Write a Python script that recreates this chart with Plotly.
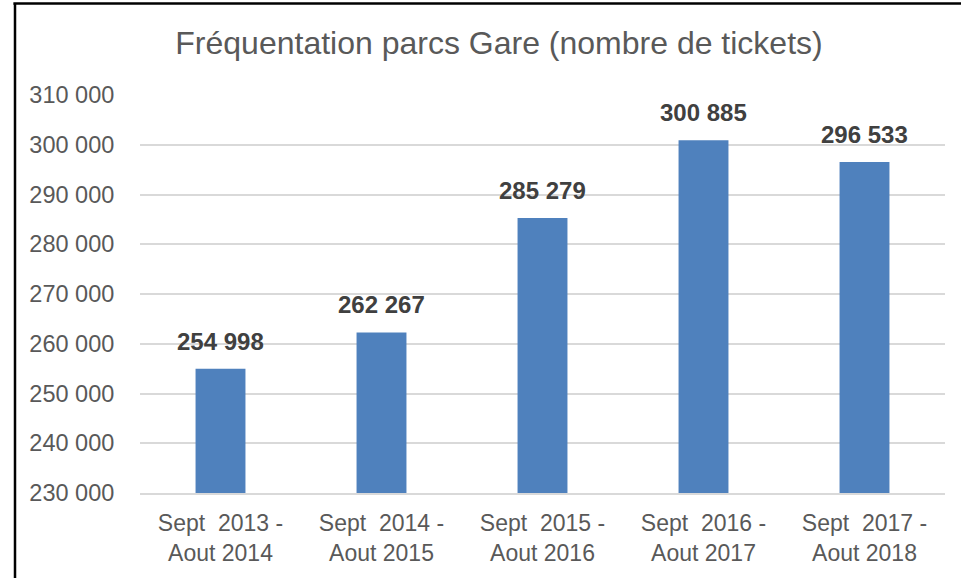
import plotly.graph_objects as go

categories = [
    "Sept\u00a0\u00a02013 -<br>Aout 2014",
    "Sept\u00a0\u00a02014 -<br>Aout 2015",
    "Sept\u00a0\u00a02015 -<br>Aout 2016",
    "Sept\u00a0\u00a02016 -<br>Aout 2017",
    "Sept\u00a0\u00a02017 -<br>Aout 2018",
]
values = [254998, 262267, 285279, 300885, 296533]
tick_vals = [230000, 240000, 250000, 260000, 270000, 280000, 290000, 300000, 310000]
tick_text = ["230 000", "240 000", "250 000", "260 000", "270 000", "280 000", "290 000", "300 000", "310 000"]
value_labels = ["254 998", "262 267", "285 279", "300 885", "296 533"]
title = "Fréquentation parcs Gare (nombre de tickets)"

FONT = "Liberation Sans, Arial, sans-serif"
GREY = "#595959"

fig = go.Figure(go.Bar(
    x=categories, y=values, marker_color="#4F81BD", marker_line_width=0,
    width=0.31, hoverinfo="skip",
))

for c, v, t in zip(categories, values, value_labels):
    fig.add_annotation(x=c, y=v, text="<b>" + t + "</b>", showarrow=False,
                       yanchor="bottom", yshift=12,
                       font=dict(family=FONT, size=24, color="#404040"))

L, R, T, B = 140, 16, 95, 85
W, H = 961, 578
pw, ph = W - L - R, H - T - B
# frame lines (left and top) in paper coords
x_left = (15 - L) / pw
y_top = 1 + (T - 3.5) / ph
y_bot = -(B + 5) / ph
x_right = 1 + (R + 5) / pw
fig.add_shape(type="line", xref="paper", yref="paper", x0=x_left, x1=x_left,
              y0=y_bot, y1=y_top, line=dict(color="black", width=2.5))
fig.add_shape(type="line", xref="paper", yref="paper", x0=x_left - 0.002, x1=x_right,
              y0=y_top, y1=y_top, line=dict(color="black", width=2.5))

fig.update_layout(
    width=W, height=H,
    margin=dict(l=L, r=R, t=T, b=B, autoexpand=False),
    paper_bgcolor="white", plot_bgcolor="white",
    showlegend=False,
    title=dict(text=title, x=499 / W, xanchor="center",
               y=1 - 43 / H, yanchor="middle",
               font=dict(family=FONT, size=32, color=GREY)),
    font=dict(family=FONT, color=GREY),
    bargap=0.69,
)
fig.update_yaxes(range=[230000, 310000], tickvals=tick_vals, ticktext=tick_text,
                 showgrid=True, gridcolor="#D9D9D9", gridwidth=1.5,
                 zeroline=False, showline=False, automargin=False,
                 ticks="outside", ticklen=20, tickcolor="rgba(0,0,0,0)",
                 tickfont=dict(family=FONT, size=23.5, color=GREY))
fig.update_xaxes(showline=True, linecolor="#D9D9D9", linewidth=1.5, automargin=False,
                 ticks="outside", ticklen=9, tickcolor="rgba(0,0,0,0)",
                 tickfont=dict(family=FONT, size=23, color=GREY))

fig.write_html("out.html", config={"displayModeBar": False},
               post_script="document.body.style.margin='0';")
